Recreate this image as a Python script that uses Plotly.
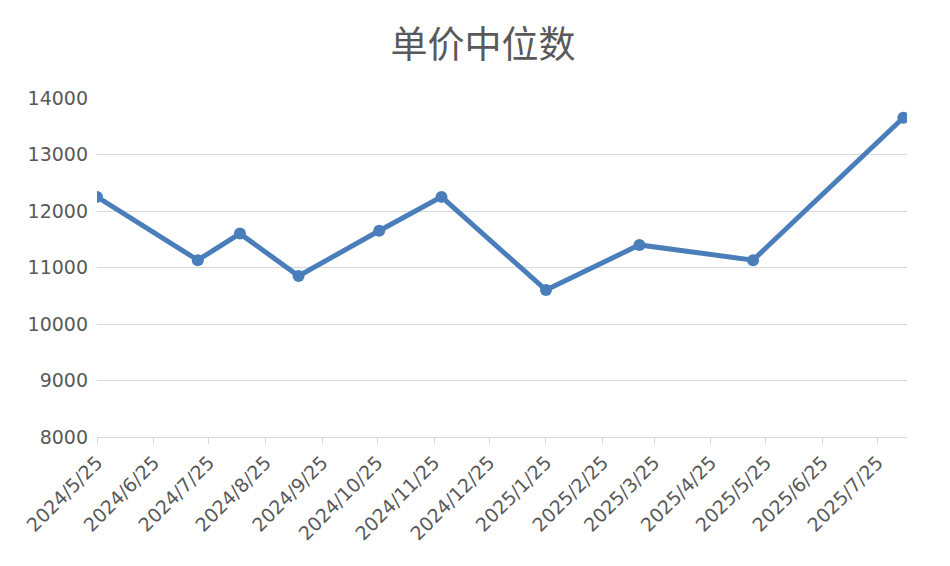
import plotly.graph_objects as go

dates = ["2024-05-25","2024-07-19","2024-08-11","2024-09-12","2024-10-26","2024-11-29",
         "2025-01-25","2025-03-17","2025-05-18","2025-08-08"]
values = [12250, 11130, 11600, 10850, 11650, 12250, 10600, 11400, 11130, 13650]
tick_dates = ["2024-05-25","2024-06-25","2024-07-25","2024-08-25","2024-09-25","2024-10-25",
              "2024-11-25","2024-12-25","2025-01-25","2025-02-25","2025-03-25","2025-04-25",
              "2025-05-25","2025-06-25","2025-07-25"]
tick_labels = ["2024/5/25","2024/6/25","2024/7/25","2024/8/25","2024/9/25","2024/10/25",
               "2024/11/25","2024/12/25","2025/1/25","2025/2/25","2025/3/25","2025/4/25",
               "2025/5/25","2025/6/25","2025/7/25"]

fig = go.Figure(go.Scatter(x=dates, y=values, mode="lines+markers",
    line=dict(color="#4a7ebb", width=5), marker=dict(size=12, color="#4a7ebb")))
fig.update_layout(
    width=950, height=566, plot_bgcolor="white", paper_bgcolor="white",
    margin=dict(l=89, r=51, t=90, b=137),
    title=dict(text="单价中位数", x=0.5, xref="container", xanchor="center", y=0.935, yanchor="middle",
               font=dict(family="Noto Sans CJK SC", size=37, color="#595959")),
    showlegend=False,
    font=dict(family="DejaVu Sans", size=19, color="#595959"),
)
fig.update_xaxes(type="date", range=["2024-05-25","2025-08-10"], tickvals=tick_dates,
                 ticktext=tick_labels, tickangle=-45, showgrid=False, showline=True,
                 linecolor="#d9d9d9", ticks="outside", ticklen=6, tickcolor="#d9d9d9",
                 automargin=False)
fig.update_yaxes(range=[8000, 14000], dtick=1000, tickformat="d", showgrid=True,
                 gridcolor="#d9d9d9", zeroline=False, ticks="", ticklabelstandoff=8,
                 automargin=False)
fig.write_html("out.html")
